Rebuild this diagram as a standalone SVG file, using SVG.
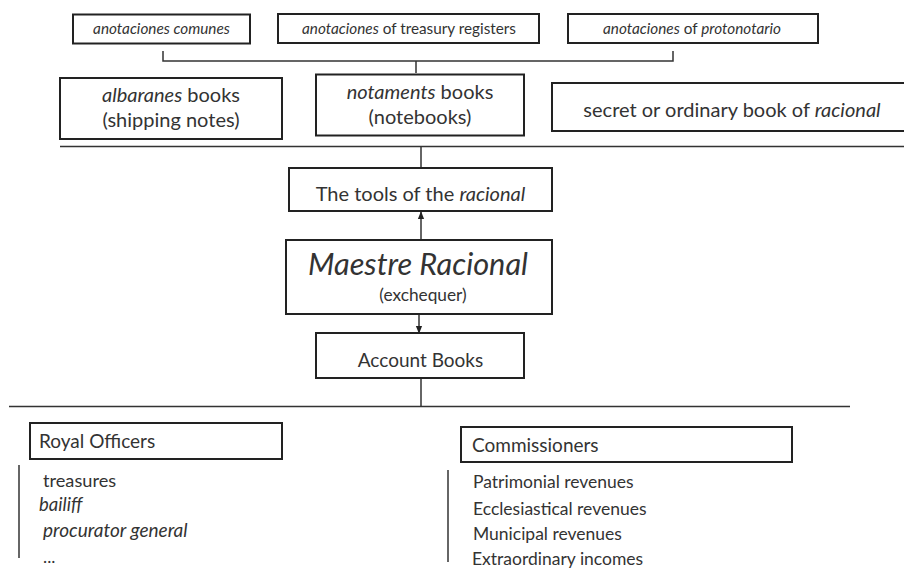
<svg xmlns="http://www.w3.org/2000/svg" width="904" height="570" viewBox="0 0 904 570">
<defs>
<style>
text{font-family:Lato,"Noto Sans","Liberation Sans",sans-serif;fill:#333}
.box{fill:#fff;stroke:#222;stroke-width:2}
.ln{fill:none;stroke:#333;stroke-width:1.5}
.sm{font-size:15.3px;font-style:italic}
.md{font-size:20px}
.hd{font-size:19px}
.li{font-size:17.5px}
.i{font-style:italic}
.c{text-anchor:middle}
</style>
<marker id="ah" viewBox="0 0 10 10" refX="9" refY="5" markerWidth="8" markerHeight="8" orient="auto" markerUnits="userSpaceOnUse"><path d="M0,1 L10,5 L0,9 Z" fill="#222"/></marker>
</defs>
<rect width="904" height="570" fill="#fff"/>
<g id="connectors">
<path class="ln" d="M163,51 V61 H673 V51 M416,61 V73"/>
<path class="ln" d="M60,146.5 H904"/>
<path class="ln" d="M421,146.5 V168"/>
<path class="ln" d="M421,240 V212" marker-end="url(#ah)"/>
<path class="ln" d="M419,314 V333" marker-end="url(#ah)"/>
<path class="ln" d="M421,378 V406"/>
<path class="ln" d="M9,406.5 H850"/>
<path class="ln" d="M19,465 V558"/>
<path class="ln" d="M448,470 V562"/>
</g>
<g id="anotaciones-comunes">
<rect class="box" x="73" y="14.5" width="177" height="29"/>
<text class="sm c" x="161.5" y="34">anotaciones comunes</text>
</g>
<g id="anotaciones-treasury">
<rect class="box" x="278" y="14" width="261" height="29"/>
<text class="sm c" x="409" y="34" style="font-style:normal"><tspan class="i">anotaciones</tspan> of treasury registers</text>
</g>
<g id="anotaciones-protonotario">
<rect class="box" x="568" y="14" width="250" height="29"/>
<text class="sm c" x="692" y="34"><tspan>anotaciones</tspan><tspan style="font-style:normal"> of </tspan><tspan>protonotario</tspan></text>
</g>
<g id="albaranes">
<rect class="box" x="60" y="78" width="222" height="61"/>
<text class="md c" x="171" y="102"><tspan class="i">albaranes</tspan> books</text>
<text class="md c" x="171" y="127">(shipping notes)</text>
</g>
<g id="notaments">
<rect class="box" x="316" y="74.5" width="208" height="61"/>
<text class="md c" x="420" y="99"><tspan class="i">notaments</tspan> books</text>
<text class="md c" x="420" y="124">(notebooks)</text>
</g>
<g id="secret-book">
<rect class="box" x="552" y="83" width="360" height="48"/>
<text class="md c" x="732" y="117">secret or ordinary book of <tspan class="i">racional</tspan></text>
</g>
<g id="tools">
<rect class="box" x="289" y="168" width="263" height="43"/>
<text class="md c" x="420.5" y="201">The tools of the <tspan class="i">racional</tspan></text>
</g>
<g id="maestre">
<rect class="box" x="286" y="240" width="266" height="74"/>
<text class="c i" x="418" y="275" style="font-size:30.7px">Maestre Racional</text>
<text class="c" x="423" y="301" style="font-size:17.3px">(exchequer)</text>
</g>
<g id="account-books">
<rect class="box" x="316" y="333" width="208" height="45"/>
<text class="hd c" x="420.5" y="367">Account Books</text>
</g>
<g id="royal-officers">
<rect class="box" x="30" y="423" width="252" height="36"/>
<text class="hd" x="39" y="448">Royal Officers</text>
<text class="li" x="43" y="487" style="font-size:18.2px">treasures</text>
<text class="li i" x="39" y="511" style="font-size:18.5px">bailiff</text>
<text class="li i" x="43" y="537" style="font-size:19px">procurator general</text>
<text class="li" x="43" y="563">...</text>
</g>
<g id="commissioners">
<rect class="box" x="461" y="427" width="331" height="35"/>
<text class="hd" x="472" y="452">Commissioners</text>
<text class="li" x="473" y="488">Patrimonial revenues</text>
<text class="li" x="473" y="515">Ecclesiastical revenues</text>
<text class="li" x="473" y="540">Municipal revenues</text>
<text class="li" x="472" y="565">Extraordinary incomes</text>
</g>
</svg>
